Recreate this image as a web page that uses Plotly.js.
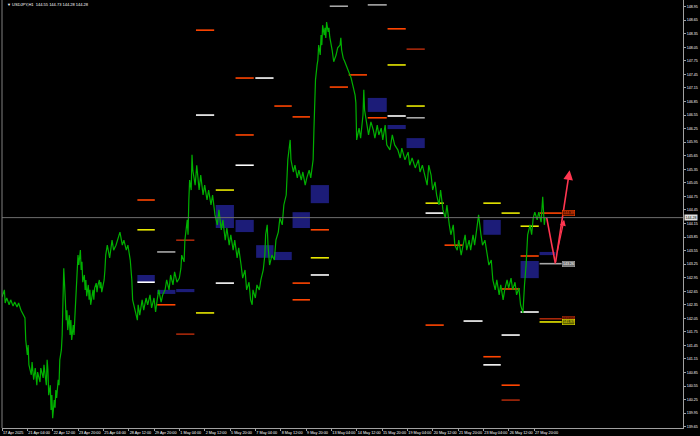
<!DOCTYPE html>
<html><head><meta charset="utf-8">
<script src="https://cdn.plot.ly/plotly-3.0.1.min.js"></script>
<style>html,body{margin:0;padding:0;background:#000;}#c{width:700px;height:436px;}</style>
</head><body><div id="c"></div>
<script>
// ---- data (H1 bar index, price) ----
const symbolTitle = 'USDJPY,H1';
const ohlc = [144.55, 144.73, 144.28, 144.28];
const lastPrice = 144.28;
const tickBars = [0,32,64,96,128,160,192,224,256,288,320,352,384,416,448,480,512,544,576,608,640,672];
const tickLabels = ['17 Apr 2025','21 Apr 04:00','22 Apr 12:00','23 Apr 20:00','25 Apr 04:00','28 Apr 12:00','29 Apr 20:00','1 May 04:00','2 May 12:00','5 May 20:00','7 May 04:00','8 May 12:00','9 May 20:00','13 May 04:00','14 May 12:00','15 May 20:00','19 May 04:00','20 May 12:00','21 May 20:00','23 May 04:00','26 May 12:00','27 May 20:00'];
const priceBars = [0,3,4,6,9,11,14,16,19,21,24,27,29,30,32,33,34,37,38,40,42,44,45,48,49,52,53,56,57,58,59,61,62,63,64,66,67,68,69,71,72,73,75,76,77,78,80,81,82,83,85,86,87,88,90,91,92,93,95,96,97,99,100,101,102,104,105,106,107,109,110,111,112,114,115,116,117,119,120,121,123,124,125,126,128,129,130,131,133,134,136,139,141,144,147,149,152,154,157,159,162,164,165,168,171,172,174,177,179,182,184,187,189,192,194,196,198,201,203,206,208,211,213,216,218,221,224,226,227,230,231,234,235,236,237,239,240,241,244,246,249,251,254,256,259,261,264,266,269,272,274,277,279,282,284,287,289,292,294,297,299,302,304,307,309,312,314,316,317,320,322,325,327,330,332,333,335,336,338,341,344,346,349,351,354,356,359,361,363,364,365,368,370,373,375,378,380,383,385,388,390,393,394,395,396,398,399,400,402,403,404,405,407,408,409,410,412,413,414,417,419,422,424,427,428,429,431,433,436,438,441,443,446,447,448,451,453,456,457,458,461,463,466,469,471,474,476,479,481,484,486,490,493,496,500,503,505,509,513,515,518,522,526,528,531,534,537,539,542,544,547,549,552,554,557,560,562,565,567,570,572,575,577,580,582,585,587,590,592,595,597,600,602,605,607,610,613,615,618,620,623,625,628,630,633,635,638,640,643,645,648,650,653,655,658,659,660,662,663,664,667,669,671,673,676,678,681,682,683,685,686];
const closePrices = [142.52,142.68,142.39,142.50,142.35,142.46,142.32,142.41,142.30,142.39,142.23,142.12,142.06,141.57,141.24,141.46,141.02,140.80,141.08,140.69,140.95,140.57,140.86,140.64,140.95,140.73,141.02,140.57,141.13,140.91,140.35,140.57,140.02,140.35,139.84,140.24,140.07,140.46,140.29,140.69,140.57,141.13,141.35,141.68,142.46,143.16,142.46,142.01,142.23,141.79,142.12,141.68,142.01,141.57,141.90,141.68,142.06,142.46,143.01,143.45,143.23,143.56,143.12,143.30,142.85,143.01,142.68,142.90,142.54,142.79,142.46,142.68,142.35,142.57,142.68,142.46,142.72,142.83,142.63,142.77,142.90,142.72,142.85,142.63,142.79,142.90,143.12,143.45,143.67,143.56,143.39,143.78,143.56,143.67,143.83,143.96,143.67,143.78,143.56,143.67,143.34,142.90,142.46,142.23,142.01,142.35,142.12,142.46,142.23,142.50,142.35,142.57,142.28,142.50,142.19,142.46,142.68,142.41,142.57,142.68,142.90,142.68,143.01,142.79,143.08,142.85,142.94,143.16,143.45,143.30,143.78,144.23,143.90,144.67,145.11,144.89,145.67,145.33,145.00,145.44,144.89,145.22,144.78,145.00,144.67,144.89,144.56,144.78,144.34,144.12,144.45,144.01,144.23,143.78,144.05,143.67,143.90,143.56,143.78,143.39,143.61,143.23,142.94,143.12,142.68,142.85,142.46,142.35,142.68,142.50,142.79,142.68,142.90,143.12,143.45,143.90,144.12,143.67,143.23,143.45,143.34,143.78,143.96,144.27,144.12,144.56,144.78,145.56,145.89,146.00,145.56,145.29,145.44,145.16,145.33,145.11,145.29,145.00,145.16,145.33,145.16,145.56,146.22,146.88,147.33,147.66,147.77,148.10,147.88,148.32,148.10,148.54,148.32,148.48,148.26,148.61,148.39,148.48,148.28,147.99,147.73,147.88,148.04,148.10,148.26,147.99,147.81,147.73,147.59,147.50,147.37,147.22,146.99,146.82,146.00,146.26,146.04,146.55,147.11,146.66,146.33,146.11,146.40,146.22,146.04,146.33,146.11,146.26,146.00,146.33,145.89,145.78,146.11,145.89,145.78,145.60,145.82,145.56,145.73,145.44,145.60,145.38,145.56,145.29,145.44,145.22,145.00,145.44,145.22,144.89,145.07,144.78,144.56,144.89,144.45,144.27,144.56,144.12,143.90,144.12,143.67,143.56,143.78,143.45,143.67,143.90,143.56,143.78,143.56,143.90,143.67,144.12,144.34,143.90,143.67,143.78,143.45,143.23,143.34,142.90,142.68,142.90,142.57,142.79,142.46,142.68,142.90,142.72,142.94,142.68,142.85,142.57,142.72,142.35,142.17,142.57,142.79,143.23,143.67,143.90,144.12,143.90,144.27,144.40,144.23,144.40,144.18,144.56,144.74,144.12,144.28];

// daily level segments: start bar, end bar, price, kind
const levelStart = [171,171,171,196,196,220,220,245,245,245,270,270,295,295,295,320,344,367,367,367,390,390,390,414,414,438,462,462,487,487,487,511,511,511,535,535,535,559,583,608,608,608,631,631,631,631,631,655,655,655,679,679,679,679];
const levelEnd   = [193,193,193,219,219,243,243,268,268,268,293,293,318,318,318,343,366,389,389,389,413,413,413,437,437,461,486,486,510,510,510,534,534,534,558,558,558,582,607,630,630,630,654,654,654,654,654,678,678,678,707,707,707,707];
const levelPrice = [144.67,144.01,142.85,143.52,142.35,143.78,141.70,148.43,146.55,142.17,144.89,142.83,147.37,146.11,145.44,147.37,146.75,146.51,142.83,142.46,144.01,143.39,143.01,148.96,147.17,147.44,148.99,146.49,148.46,147.66,146.53,148.01,146.75,146.49,144.60,144.38,141.90,143.67,141.99,144.60,141.20,141.02,144.38,142.70,141.68,140.57,140.24,144.09,143.43,142.19,144.38,143.26,142.04,141.97];
const levelKind  = ['R','Y','W','G','R','D','D','R','W','Y','Y','W','R','R','W','W','R','R','R','R','R','Y','W','G','R','R','G','R','R','Y','W','D','Y','G','Y','W','R','R','W','Y','R','W','Y','R','W','R','D','Y','R','W','R','G','D','Y'];

// zone rectangles: start bar, end bar, top, bottom
const zoneStart = [171,196,220,270,295,321,344,367,390,462,487,511,608,655,679];
const zoneEnd   = [193,219,243,293,318,343,366,389,413,486,510,534,630,678,699];
const zoneTop   = [143.01,142.68,142.70,144.56,144.23,143.67,143.52,144.40,145.00,146.93,146.33,146.04,144.23,143.32,143.52];
const zoneBot   = [142.85,142.59,142.63,144.05,143.96,143.39,143.34,144.05,144.60,146.62,146.24,145.82,143.90,142.94,143.45];

// projection path
const projBars   = [688, 699];
const projPrices = [144.28, 143.26];
const projTip    = [717, 145.33];
const projDash   = [[701, 143.50], [710, 144.23]];

// right side level labels
const boxPrices = [144.38, 143.26, 142.04, 141.97];
const boxKind   = ['R','G','D','Y'];
</script>
<script>
const kindColor = {R:'#ff4500', Y:'#e8e800', W:'#ffffff', G:'#a8a8a8', D:'#a8280a'};
const traces = [];
Object.keys(kindColor).forEach(k => {
  const xs = [], ys = [];
  levelKind.forEach((kk, i) => { if (kk === k) { xs.push(levelStart[i], levelEnd[i], null); ys.push(levelPrice[i], levelPrice[i], null); } });
  traces.push({x: xs, y: ys, mode: 'lines', line: {color: kindColor[k], width: 1.6}, hoverinfo: 'skip', showlegend: false});
});
traces.push({x: priceBars, y: closePrices, mode: 'lines', line: {color: '#00b000', width: 1.2}, hoverinfo: 'skip', showlegend: false});
traces.push({x: projBars, y: projPrices, mode: 'lines', line: {color: '#ff3650', width: 1.6}, hoverinfo: 'skip', showlegend: false});

const shapes = [];
zoneStart.forEach((s, i) => shapes.push({type: 'rect', xref: 'x', yref: 'y', x0: s, x1: zoneEnd[i], y0: zoneBot[i], y1: zoneTop[i], fillcolor: '#1c1c78', line: {width: 0}, layer: 'below'}));
shapes.push({type: 'line', xref: 'paper', yref: 'y', x0: 0, x1: 1, y0: lastPrice, y1: lastPrice, line: {color: '#6e6e6e', width: 1}});
shapes.push({type: 'line', xref: 'paper', yref: 'paper', x0: 0, x1: 0, y0: 0, y1: 1, line: {color: '#808080', width: 1}});

const annotations = [];
annotations.push({xref: 'paper', yref: 'paper', x: 0.004, y: 1, xanchor: 'left', yanchor: 'top', showarrow: false,
  text: '\u25BC ' + symbolTitle + '  ' + ohlc.map(v => v.toFixed(2)).join(' '), font: {family: 'Liberation Sans', size: 4, color: '#ffffff'}});
annotations.push({xref: 'paper', yref: 'y', x: 1, y: lastPrice, xanchor: 'left', yanchor: 'middle', xshift: 1, showarrow: false,
  text: lastPrice.toFixed(2), bgcolor: '#e0e0e0', borderpad: 0.5, font: {family: 'Liberation Sans', size: 3.6, color: '#000000'}});
annotations.push({x: projTip[0], y: projTip[1], ax: projBars[1], ay: projPrices[1], xref: 'x', yref: 'y', axref: 'x', ayref: 'y',
  showarrow: true, arrowhead: 2, arrowsize: 1.2, arrowwidth: 1.6, arrowcolor: '#ff3650', text: ''});
annotations.push({x: projDash[1][0], y: projDash[1][1], ax: projDash[0][0], ay: projDash[0][1], xref: 'x', yref: 'y', axref: 'x', ayref: 'y',
  showarrow: true, arrowhead: 2, arrowsize: 1, arrowwidth: 1.2, arrowcolor: '#ff3650', text: ''});
const boxBg = {R:'#5a1500', G:'#707070', D:'#5a1500', Y:'#5a5a00'};
boxPrices.forEach((p, i) => annotations.push({xref: 'x', yref: 'y', x: 707, y: p, xanchor: 'left', yanchor: 'middle', showarrow: false,
  text: p.toFixed(2), bgcolor: boxBg[boxKind[i]], bordercolor: kindColor[boxKind[i]], borderwidth: 0.6, borderpad: 0.3,
  font: {family: 'Liberation Sans', size: 3.6, color: boxKind[i] === 'G' ? '#ffffff' : kindColor[boxKind[i]]}}));

const layout = {
  width: 700, height: 436,
  margin: {l: 2, r: 17, t: 0, b: 8, pad: 0},
  paper_bgcolor: '#000000', plot_bgcolor: '#000000',
  showlegend: false,
  xaxis: {range: [0, 860.2], tickmode: 'array', tickvals: tickBars, ticktext: tickLabels, tickangle: 0, automargin: false, ticks: 'outside', ticklen: 1.5, tickcolor: '#a0a0a0',
    ticklabelposition: 'outside right', showgrid: false, zeroline: false, showline: true, linecolor: '#a0a0a0', linewidth: 1,
    tickfont: {family: 'Liberation Sans', size: 3.8, color: '#ffffff'}, fixedrange: true},
  yaxis: {range: [139.622, 149.098], side: 'right', tick0: 139.65, dtick: 0.30, tickformat: '.2f', automargin: false, ticks: 'outside', ticklen: 2, tickcolor: '#a0a0a0',
    showgrid: false, zeroline: false, showline: true, linecolor: '#a0a0a0', linewidth: 1,
    tickfont: {family: 'Liberation Sans', size: 3.6, color: '#ffffff'}, fixedrange: true},
  shapes: shapes, annotations: annotations
};
Plotly.newPlot('c', traces, layout, {staticPlot: true, displayModeBar: false});
</script>
</body></html>
